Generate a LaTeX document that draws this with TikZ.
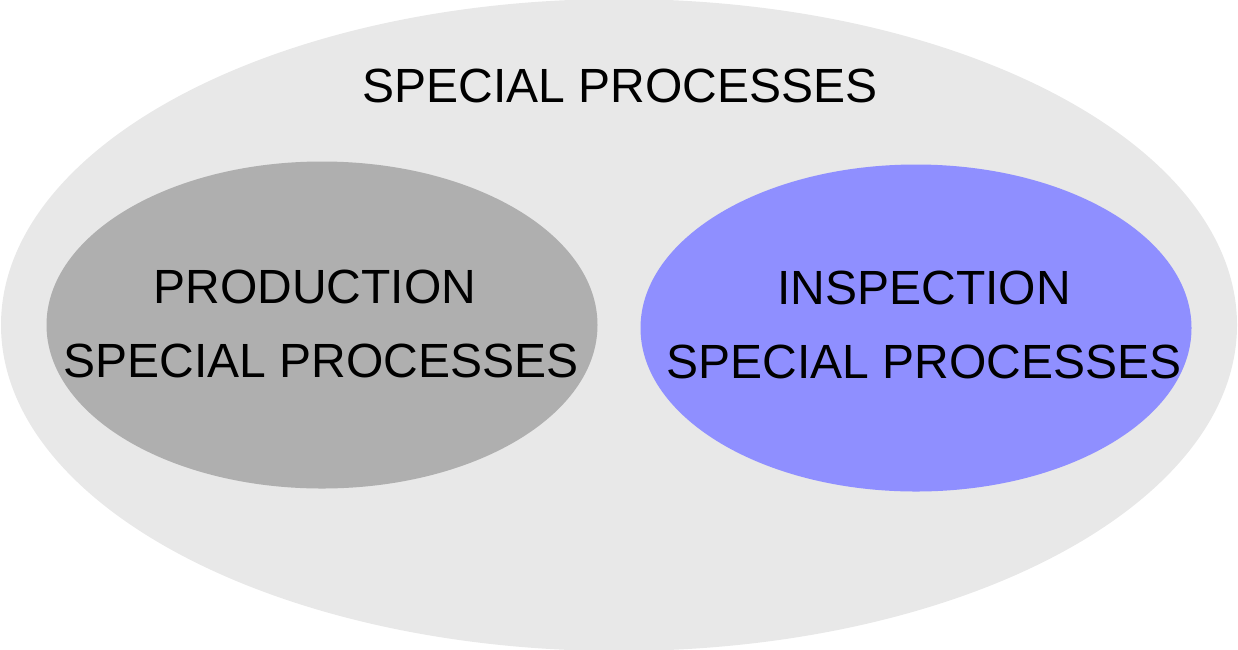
\documentclass[tikz,border=0pt]{standalone}
\usepackage{fontspec}
\setmainfont{Liberation Sans}
\usetikzlibrary{shapes.geometric}
\definecolor{outerfill}{HTML}{E8E8E8}
\definecolor{prodfill}{HTML}{AFAFAF}
\definecolor{inspfill}{HTML}{8F8FFF}
\begin{document}
\begin{tikzpicture}[x=1pt,y=-1pt,
  blob/.style={ellipse, draw=none, inner sep=0pt},
  lbl/.style={font=\fontsize{48}{74}\selectfont, align=center, inner sep=0pt, text=black}]
\useasboundingbox (0,0) rectangle (1238,649);
% outer set
\node[blob, fill=outerfill, minimum width=1236pt, minimum height=652pt] (outer) at (619,325) {};
% two inner sets
\node[blob, fill=prodfill, minimum width=551pt, minimum height=327pt] (prod) at (322,325) {};
\node[blob, fill=inspfill, minimum width=551pt, minimum height=327pt] (insp) at (916,328) {};
% labels
\node[lbl, anchor=base] (title) at (620,102) {SPECIAL PROCESSES};
\node[lbl] (prodtxt) at (321,324) {PRODUCTION\hspace*{12pt}\\SPECIAL PROCESSES};
\node[lbl] (insptxt) at (924,325) {INSPECTION\\SPECIAL PROCESSES};
\end{tikzpicture}
\end{document}
